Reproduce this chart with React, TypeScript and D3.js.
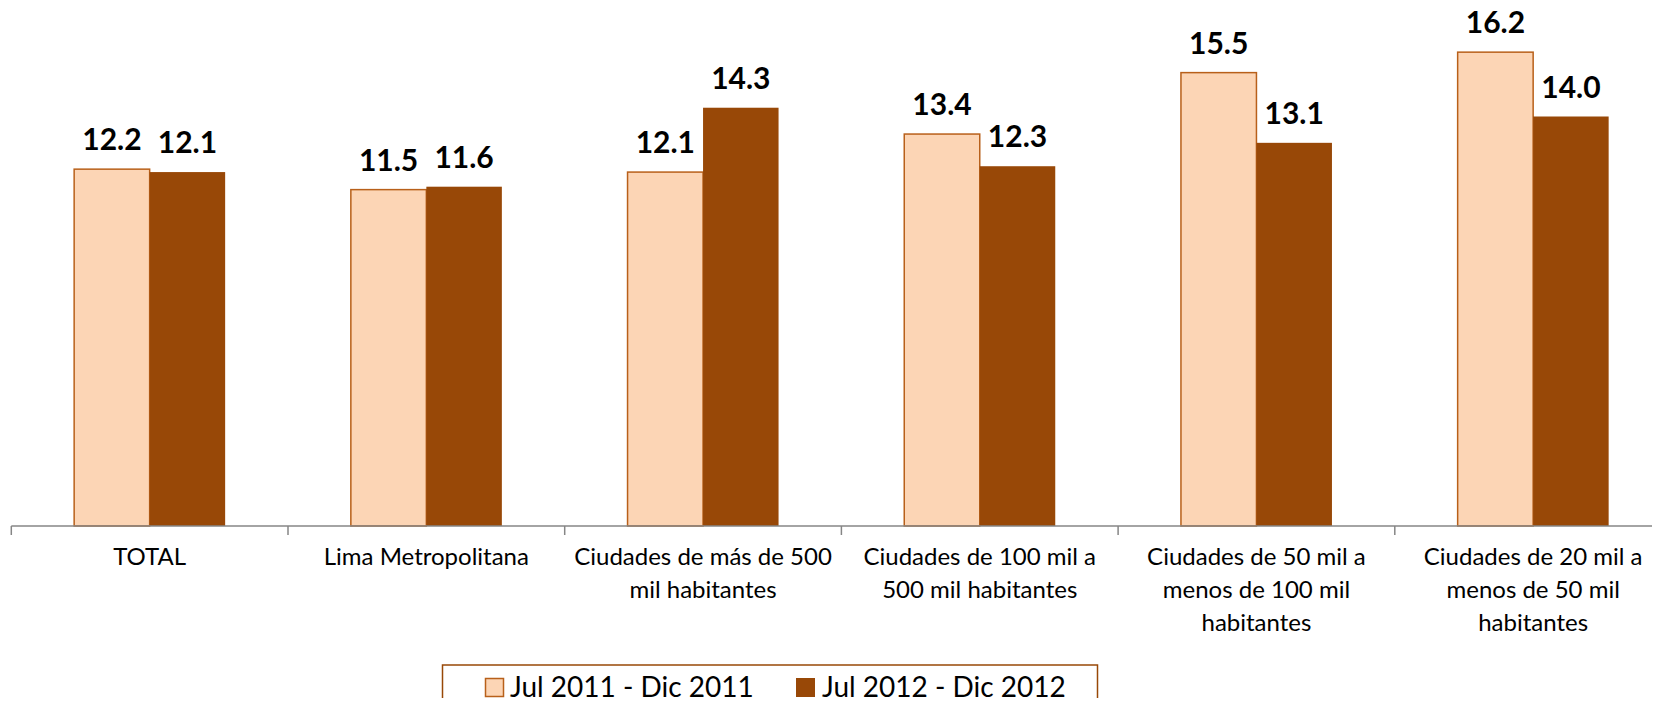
import React from "react";
import * as d3 from "d3";

const categories: string[][] = [
  ["TOTAL"],
  ["Lima Metropolitana"],
  ["Ciudades de más de 500", "mil habitantes"],
  ["Ciudades de 100 mil a", "500 mil habitantes"],
  ["Ciudades de 50 mil a", "menos de 100 mil", "habitantes"],
  ["Ciudades de 20 mil a", "menos de 50 mil", "habitantes"],
];
const seriesNames = ["Jul 2011 - Dic 2011", "Jul 2012 - Dic 2012"];
const values2011 = [12.2, 11.5, 12.1, 13.4, 15.5, 16.2];
const values2012 = [12.1, 11.6, 14.3, 12.3, 13.1, 14.0];

const W = 1660;
const H = 706;
const FONT = "Lato, 'Open Sans', sans-serif";
const LIGHT = "#FCD5B5";
const DARK = "#984807";

export default function App() {
  const axisY = 526;
  const x0 = 11.3;
  const step = 276.7;
  const x = d3
    .scaleBand<number>()
    .domain(d3.range(categories.length))
    .range([x0, x0 + step * categories.length])
    .paddingInner(0)
    .paddingOuter(0);
  const y = d3.scaleLinear().domain([0, 18]).range([axisY, axisY - 18 * 29.25]);
  const barW = 75.5;
  const series = [values2011, values2012];
  const fills = [LIGHT, DARK];

  return (
    <div style={{ margin: -8, width: W, height: H, overflow: "hidden" }}>
      <svg width={W} height={H} style={{ display: "block" }}>
        <rect width={W} height={H} fill="#fff" />
        {series.map((vals, s) =>
          vals.map((v, i) => {
            const cx = (x(i) as number) + x.bandwidth() / 2;
            const bx = s === 0 ? cx - barW : cx;
            const top = y(v);
            return (
              <g key={`${s}-${i}`}>
                <rect
                  x={bx}
                  y={top}
                  width={barW}
                  height={axisY - top}
                  fill={fills[s]}
                  stroke={s === 0 ? "#B8601A" : "none"}
                  strokeWidth={1.5}
                />
                <text
                  x={bx + barW / 2}
                  y={top - 19}
                  textAnchor="middle"
                  fontFamily={FONT}
                  fontWeight="bold"
                  fontSize={30}
                  fill="#000"
                >
                  {v.toFixed(1)}
                </text>
              </g>
            );
          })
        )}
        <line x1={x0} x2={W} y1={axisY} y2={axisY} stroke="#868686" strokeWidth={1.5} />
        {d3.range(categories.length + 1).map((i) => (
          <line
            key={i}
            x1={x0 + i * step}
            x2={x0 + i * step}
            y1={axisY}
            y2={axisY + 9}
            stroke="#868686"
            strokeWidth={1.5}
          />
        ))}
        {categories.map((lines, i) => {
          const cx = (x(i) as number) + x.bandwidth() / 2;
          return (
            <text
              key={i}
              textAnchor="middle"
              fontFamily={FONT}
              fontSize={24}
              fill="#000"
            >
              {lines.map((l, j) => (
                <tspan key={j} x={cx} y={565 + j * 33}>
                  {l}
                </tspan>
              ))}
            </text>
          );
        })}
        <g>
          <rect x={442.5} y={665} width={655} height={60} fill="#fff" stroke={DARK} strokeWidth={1.5} />
          <rect x={485.5} y={678.5} width={18} height={18} fill={LIGHT} stroke="#B8601A" strokeWidth={1.5} />
          <text x={510} y={697} fontFamily={FONT} fontSize={28} fill="#000">
            {seriesNames[0]}
          </text>
          <rect x={796} y={678} width={19} height={19} fill={DARK} />
          <text x={822} y={697} fontFamily={FONT} fontSize={28} fill="#000">
            {seriesNames[1]}
          </text>
        </g>
      </svg>
    </div>
  );
}
